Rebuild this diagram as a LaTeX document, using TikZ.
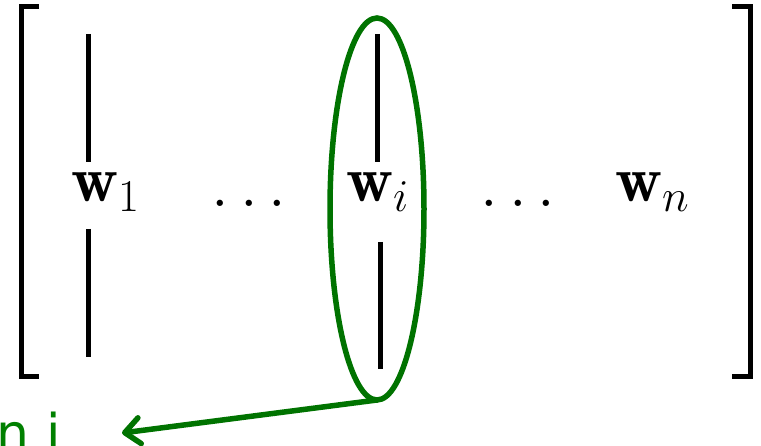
\documentclass[tikz,border=0pt]{standalone}
\usepackage{fix-cm}
\usepackage{amsmath}
\usepackage{fontspec}
\newfontfamily\labelfont{DejaVu Sans}
\usetikzlibrary{shapes.geometric,arrows.meta}
\definecolor{colgreen}{RGB}{0,115,0}
\definecolor{txtgreen}{RGB}{0,128,0}
\tikzset{
  bigmath/.style={font=\fontsize{65}{72}\selectfont, inner sep=0pt},
  bar/.style={line width=5pt},
  colbar/.style={line width=5pt},
  sel/.style={draw=colgreen, line width=5.5pt, ellipse, minimum width=94pt, minimum height=382pt, inner sep=0pt, outer sep=0pt},
  pointer/.style={draw=colgreen, line width=5.5pt, line cap=round, -{Straight Barb[length=15pt,width=26pt,round]}},
  lbl/.style={font=\labelfont\fontsize{52}{58}\selectfont, text=txtgreen, inner sep=0pt}
}
\begin{document}
\begin{tikzpicture}[x=1pt,y=-1pt]
\useasboundingbox (0,0) rectangle (761,446);
\clip (0,0) rectangle (761,446);
% brackets
\draw[bar] (39,7) -- (21,7) -- (21,377) -- (39,377);
\draw[bar] (732,7) -- (750.5,7) -- (750.5,377) -- (732,377);
% column 1
\node[bigmath, anchor=base west] (w1) at (71,202) {$\mathbf{w}_1$};
\draw[colbar] (88,34) -- (88,162);
\draw[colbar] (88,229) -- (88,357);
% dots
\node[bigmath, anchor=base] (d1) at (249,207) {$\ldots$};
% column i
\node[bigmath, anchor=base west] (wi) at (346,202) {$\mathbf{w}_i$};
\draw[colbar] (377,34) -- (377,162);
\draw[colbar] (380,242) -- (380,369);
\node[sel] (ell) at (377,209) {};
% dots
\node[bigmath, anchor=base] (d2) at (518,207) {$\ldots$};
% column n
\node[bigmath, anchor=base west] (wn) at (615,202) {$\mathbf{w}_n$};
% label and pointer
\node[lbl, anchor=base east] (lab) at (61,452) {column i};
\coordinate (tip) at (122,433);
\draw[pointer] (ell.south) -- (tip);
\end{tikzpicture}
\end{document}
